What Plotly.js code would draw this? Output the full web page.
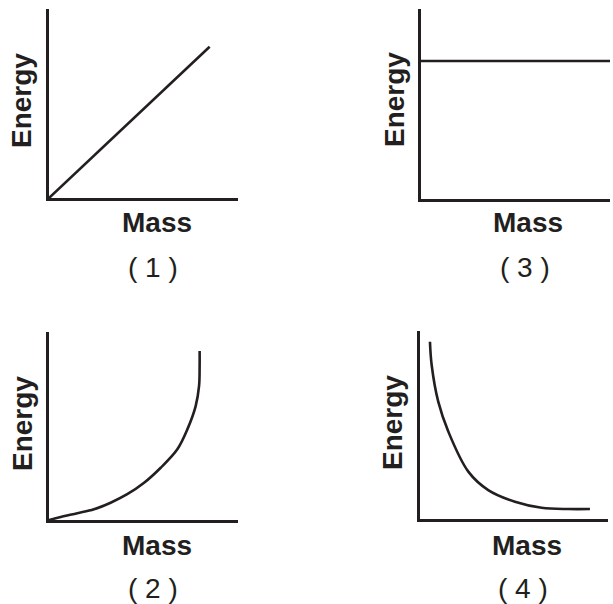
<!DOCTYPE html>
<html>
<head>
<meta charset="utf-8">
<script src="https://cdn.plot.ly/plotly-3.0.1.min.js"></script>
<style>html,body{margin:0;padding:0;background:#fff;}#chart{width:613px;height:604px;}</style>
</head>
<body>
<div id="chart"></div>
<script>
// Panel (1): linear
const p1X = [0, 8.5];
const p1Y = [0, 8.0];
// Panel (2): rising curve
const p2X = [0, 0.62, 1.50, 2.38, 3.26, 4.14, 5.03, 5.91, 6.79, 7.32, 7.76, 7.94, 7.97, 7.97];
const p2Y = [0, 0.16, 0.36, 0.57, 0.92, 1.37, 1.98, 2.78, 3.76, 4.82, 6.06, 7.13, 8.19, 8.99];
// Panel (3): constant
const p3X = [0, 10];
const p3Y = [7.26, 7.26];
// Panel (4): decaying curve
const p4X = [0.53, 0.62, 0.97, 1.51, 2.57, 3.63, 5.05, 6.47, 7.89, 9.04];
const p4Y = [9.43, 8.19, 6.24, 4.64, 2.52, 1.54, 0.92, 0.60, 0.53, 0.53];

const xTitle = "Mass";
const yTitle = "Energy";
const panelLabels = ["( 1 )", "( 2 )", "( 3 )", "( 4 )"];

const ink = "#231f20";
const lineStyle = {color: ink, width: 2.6};

const traces = [
  {x: p1X, y: p1Y, xaxis: "x", yaxis: "y", mode: "lines", line: lineStyle},
  {x: p2X, y: p2Y, xaxis: "x2", yaxis: "y2", mode: "lines", line: Object.assign({shape: "spline", smoothing: 1}, lineStyle)},
  {x: p3X, y: p3Y, xaxis: "x3", yaxis: "y3", mode: "lines", line: lineStyle},
  {x: p4X, y: p4Y, xaxis: "x4", yaxis: "y4", mode: "lines", line: Object.assign({shape: "spline", smoothing: 1}, lineStyle)}
];

function ax(domain, anchor) {
  return {
    domain: domain, anchor: anchor, range: [0, 10],
    showline: true, linewidth: 3, linecolor: ink,
    showgrid: false, zeroline: false, ticks: "", showticklabels: false,
    fixedrange: true
  };
}

// panel geometry: [xdomain, ydomain] for panels 1..4
const W = 613, H = 604;
const geom = [
  {x: [49/W, 238/W], y: [1-198/H, 1-9/H]},
  {x: [49/W, 238/W], y: [1-520/H, 1-332/H]},
  {x: [421/W, 610/W], y: [1-199/H, 1-9/H]},
  {x: [420/W, 608/W], y: [1-519/H, 1-331/H]}
];

const textPos = [
  {e: [22, 100], m: [157, 223], l: [153, 267]},
  {e: [22, 423], m: [157, 545], l: [153, 588]},
  {e: [395, 100], m: [528, 223], l: [525, 267]},
  {e: [392, 423], m: [527, 545], l: [523, 588]}
];

const fontFam = "Liberation Sans, Arial, Helvetica, sans-serif";
const annotations = [];
textPos.forEach((t, i) => {
  annotations.push({xref: "paper", yref: "paper", x: t.e[0]/W, y: 1-t.e[1]/H, text: "<b>" + yTitle + "</b>", textangle: -90, showarrow: false, xanchor: "center", yanchor: "middle", font: {family: fontFam, size: 28, color: ink}});
  annotations.push({xref: "paper", yref: "paper", x: t.m[0]/W, y: 1-t.m[1]/H, text: "<b>" + xTitle + "</b>", showarrow: false, xanchor: "center", yanchor: "middle", font: {family: fontFam, size: 28, color: ink}});
  annotations.push({xref: "paper", yref: "paper", x: t.l[0]/W, y: 1-t.l[1]/H, text: panelLabels[i], showarrow: false, xanchor: "center", yanchor: "middle", font: {family: fontFam, size: 28, color: ink}});
});

const layout = {
  width: W, height: H,
  margin: {l: 0, r: 0, t: 0, b: 0},
  paper_bgcolor: "#ffffff", plot_bgcolor: "#ffffff",
  showlegend: false,
  xaxis: ax(geom[0].x, "y"), yaxis: ax(geom[0].y, "x"),
  xaxis2: ax(geom[1].x, "y2"), yaxis2: ax(geom[1].y, "x2"),
  xaxis3: ax(geom[2].x, "y3"), yaxis3: ax(geom[2].y, "x3"),
  xaxis4: ax(geom[3].x, "y4"), yaxis4: ax(geom[3].y, "x4"),
  annotations: annotations
};

Plotly.newPlot("chart", traces, layout, {displayModeBar: false, staticPlot: true});
</script>
</body>
</html>
